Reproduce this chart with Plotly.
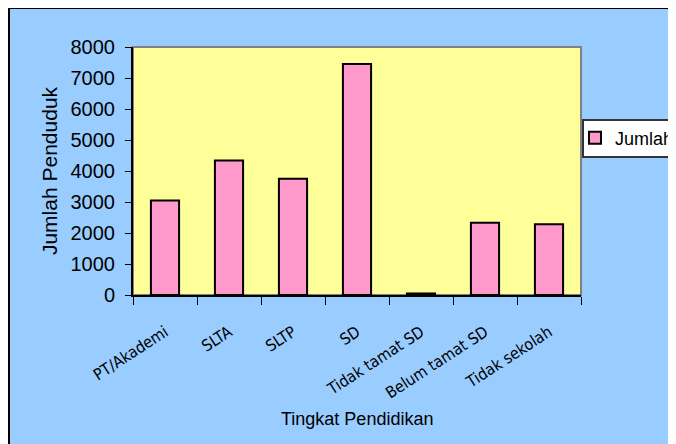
import plotly.graph_objects as go

categories = ["PT/Akademi", "SLTA", "SLTP", "SD", "Tidak tamat SD", "Belum tamat SD", "Tidak sekolah"]
jumlah = [3050, 4340, 3750, 7450, 50, 2330, 2280]
y_ticks = [0, 1000, 2000, 3000, 4000, 5000, 6000, 7000, 8000]

# page offset from default body margin
OFF = 8
W, H = 676 - OFF, 444 - OFF
# plot area in page pixels: x 133..581, y 47..295
L = 133 - OFF
R = W - (581 - OFF)
T = 47 - OFF
B = H - (295 - OFF)
pw = W - L - R
ph = H - T - B


def px_x(x):
    return (x - OFF - L) / pw


def px_y(y):
    return (H - B - (y - OFF)) / ph


fig = go.Figure()
fig.add_trace(go.Bar(
    x=categories, y=jumlah, name="Jumlah",
    marker=dict(color="#FF99CC", line=dict(color="black", width=2)),
))

fig.update_layout(
    width=W, height=H,
    margin=dict(l=L, r=R, t=T, b=B, autoexpand=False),
    paper_bgcolor="#99CCFF",
    plot_bgcolor="#FFFF99",
    bargap=0.56,
    showlegend=True,
    font=dict(family="Liberation Sans, Arial", color="black"),
    legend=dict(
        x=px_x(575), xanchor="left", y=px_y(138), yanchor="middle",
        bgcolor="rgba(0,0,0,0)", borderwidth=0,
        font=dict(size=18, family="Liberation Sans, Arial"),
        itemwidth=30,
    ),
    shapes=[
        dict(type="line", xref="paper", yref="paper",
             x0=px_x(9), x1=px_x(9), y0=px_y(444), y1=px_y(8),
             line=dict(color="black", width=2)),
        dict(type="line", xref="paper", yref="paper",
             x0=px_x(8), x1=px_x(680), y0=px_y(8), y1=px_y(8),
             line=dict(color="black", width=2)),
        dict(type="rect", xref="paper", yref="paper",
             x0=0, x1=1, y0=0, y1=1,
             fillcolor="rgba(0,0,0,0)", line=dict(color="#808080", width=2), layer="below"),
        dict(type="rect", xref="paper", yref="paper",
             x0=px_x(583), x1=px_x(690), y0=px_y(157), y1=px_y(120),
             fillcolor="white", line=dict(color="#333333", width=2), layer="below"),
    ],
    annotations=[
        dict(text="Tingkat Pendidikan", xref="paper", yref="paper",
             x=px_x(357), y=px_y(419), xanchor="center", yanchor="middle",
             showarrow=False, font=dict(size=18, family="Liberation Sans, Arial")),
    ],
)

fig.update_xaxes(
    tickson="boundaries", ticks="outside", ticklen=8, tickwidth=1, tickcolor="black",
    showline=True, linecolor="black", linewidth=1.5,
    tickangle=-33,
    ticklabelstandoff=20,
    tickfont=dict(family="DejaVu Sans Condensed, Liberation Sans Narrow, Arial", size=16),
    showgrid=False,
)
fig.update_yaxes(
    range=[0, 8000], tickvals=y_ticks, ticks="outside", ticklen=6, tickcolor="black",
    showline=True, linecolor="black", linewidth=2,
    ticklabelstandoff=6,
    tickfont=dict(size=20),
    title=dict(text="Jumlah Penduduk", font=dict(size=21), standoff=7),
    showgrid=False, zeroline=False,
)

fig.write_html("out.html")
